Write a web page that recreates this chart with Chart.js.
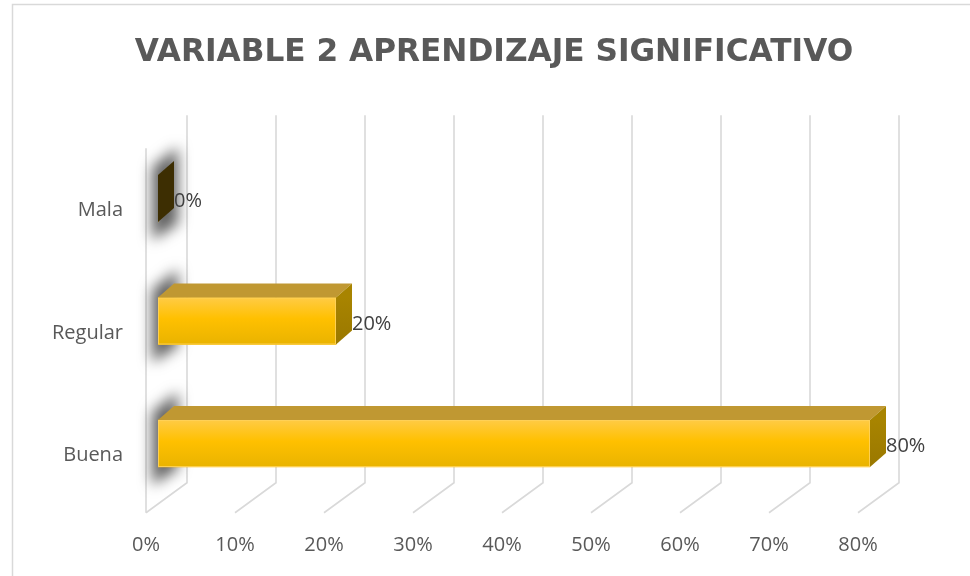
<!DOCTYPE html>
<html>
<head>
<meta charset="utf-8">
<script src="https://cdn.jsdelivr.net/npm/chart.js@4.4.1/dist/chart.umd.min.js"></script>
<style>
  html, body { margin: 0; padding: 0; background: #fff; overflow: hidden; }
  #wrap { position: absolute; left: 0; top: 0; width: 970px; height: 576px; }
</style>
</head>
<body>
<div id="wrap"><canvas id="c"></canvas></div>
<script>
const chartTitle = 'VARIABLE 2 APRENDIZAJE SIGNIFICATIVO';
const categories = ['Mala', 'Regular', 'Buena'];
const values = [0, 20, 80];
const xTicksMax = 80;
const xTicksStep = 10;

const DX = 16, DY = -14;          // bar depth offset
const WALL_BACK = 29, WALL_FRONT = -12; // wall offsets relative to bar plane
const WDY_BACK = -22, WDY_FRONT = 8;
const GRID = '#d9d9d9';

const frame3d = {
  id: 'frame3d',
  beforeDraw(chart) {
    const ctx = chart.ctx;
    ctx.save();
    ctx.strokeStyle = GRID;
    ctx.lineWidth = 1.5;
    ctx.beginPath();
    ctx.moveTo(12.5, 576); ctx.lineTo(12.5, 4.5); ctx.lineTo(970, 4.5);
    ctx.stroke();
    // chart title
    ctx.fillStyle = '#595959';
    ctx.font = 'bold 31.2px "DejaVu Sans"';
    ctx.textAlign = 'center';
    ctx.textBaseline = 'alphabetic';
    ctx.fillText(chartTitle, 494, 61);
    ctx.restore();
  },
  beforeDatasetsDraw(chart) {
    const ctx = chart.ctx;
    const xs = chart.scales.x;
    const ca = chart.chartArea;
    const backTop = ca.top + WDY_BACK;
    const backBot = ca.bottom + WDY_BACK;
    const frontBot = ca.bottom + WDY_FRONT;
    ctx.save();
    ctx.strokeStyle = GRID;
    ctx.lineWidth = 1.6;
    for (let v = 0; v <= xTicksMax; v += xTicksStep) {
      const px = xs.getPixelForValue(v);
      ctx.beginPath();
      ctx.moveTo(px + WALL_BACK, backTop);
      ctx.lineTo(px + WALL_BACK, backBot);
      ctx.lineTo(px + WALL_FRONT, frontBot);
      ctx.stroke();
    }
    // left side wall front edge
    const p0 = xs.getPixelForValue(0);
    ctx.beginPath();
    ctx.moveTo(p0 + WALL_FRONT, ca.top + 11);
    ctx.lineTo(p0 + WALL_FRONT, frontBot);
    ctx.stroke();

    // soft shadows on the side wall
    const meta = chart.getDatasetMeta(0);
    meta.data.forEach((bar) => {
      const {y, height, base} = bar.getProps(['y', 'height', 'base'], true);
      const top = y - height / 2, bot = y + height / 2;
      const o = 2000;
      ctx.save();
      ctx.shadowColor = 'rgba(0,0,0,0.62)';
      ctx.shadowBlur = 14;
      ctx.shadowOffsetX = o;
      ctx.fillStyle = '#000';
      ctx.beginPath();
      ctx.moveTo(base - o - 6, top - 8);
      ctx.lineTo(base - o + 20, top - 28);
      ctx.lineTo(base - o + 20, bot + 2);
      ctx.lineTo(base - o - 6, bot + 18);
      ctx.closePath();
      ctx.fill();
      ctx.restore();
    });
    ctx.restore();
  },
  afterDatasetsDraw(chart) {
    const ctx = chart.ctx;
    const meta = chart.getDatasetMeta(0);
    ctx.save();
    meta.data.forEach((bar, i) => {
      const {x, y, height, base} = bar.getProps(['x', 'y', 'height', 'base'], true);
      const top = y - height / 2, bot = y + height / 2;
      const v = values[i];
      // front face gradient
      if (x - base > 0.5) {
        const g = ctx.createLinearGradient(0, top, 0, bot);
        g.addColorStop(0, '#ffcb45');
        g.addColorStop(0.45, '#ffc000');
        g.addColorStop(1, '#e9b300');
        ctx.fillStyle = g;
        ctx.fillRect(base, top, x - base, height);
        ctx.strokeStyle = 'rgba(255,210,90,0.9)';
        ctx.lineWidth = 1;
        ctx.strokeRect(base + 0.5, top + 0.5, x - base - 1, height - 1);
      }
      // data label
      ctx.fillStyle = '#404040';
      ctx.font = '20px "Open Sans"';
      ctx.textAlign = 'left';
      ctx.textBaseline = 'middle';
      ctx.fillText(v + '%', x + DX, y + 3);
      // top face
      if (x - base > 0.5) {
        ctx.fillStyle = '#c09832';
        ctx.beginPath();
        ctx.moveTo(base, top);
        ctx.lineTo(base + DX, top + DY);
        ctx.lineTo(x + DX, top + DY);
        ctx.lineTo(x, top);
        ctx.closePath();
        ctx.fill();
      }
      // side (end) face
      if (v === 0) {
        ctx.fillStyle = '#3d2e02';
      } else {
        const gs = ctx.createLinearGradient(0, top, 0, bot);
        gs.addColorStop(0, '#a88400');
        gs.addColorStop(1, '#9a7800');
        ctx.fillStyle = gs;
      }
      ctx.beginPath();
      ctx.moveTo(x, top);
      ctx.lineTo(x + DX, top + DY);
      ctx.lineTo(x + DX, bot + DY);
      ctx.lineTo(x, bot);
      ctx.closePath();
      ctx.fill();
    });
    ctx.restore();
  }
};

new Chart(document.getElementById('c'), {
  type: 'bar',
  data: {
    labels: categories,
    datasets: [{
      data: values,
      backgroundColor: '#ffc000',
      borderWidth: 0,
      barThickness: 47
    }]
  },
  options: {
    indexAxis: 'y',
    responsive: true,
    maintainAspectRatio: false,
    animation: false,
    layout: { padding: { left: 0, right: 100, top: 137.25, bottom: 0 } },
    plugins: {
      legend: { display: false },
      tooltip: { enabled: false },
      title: { display: false }
    },
    scales: {
      x: {
        min: 0,
        max: xTicksMax,
        grid: { display: false },
        border: { display: false },
        afterFit(scale) { scale.height = 71.25; },
        ticks: {
          stepSize: xTicksStep,
          callback: (v) => v + '%',
          color: '#595959',
          font: { family: '"Open Sans"', size: 20 },
          labelOffset: -12,
          padding: 21,
          maxRotation: 0
        }
      },
      y: {
        grid: { display: false },
        border: { display: false },
        afterFit(scale) { scale.width = 158; },
        ticks: {
          color: '#595959',
          font: { family: '"Open Sans"', size: 20 },
          padding: 27,
          labelOffset: 12
        }
      }
    }
  },
  plugins: [frame3d]
});
</script>
</body>
</html>
